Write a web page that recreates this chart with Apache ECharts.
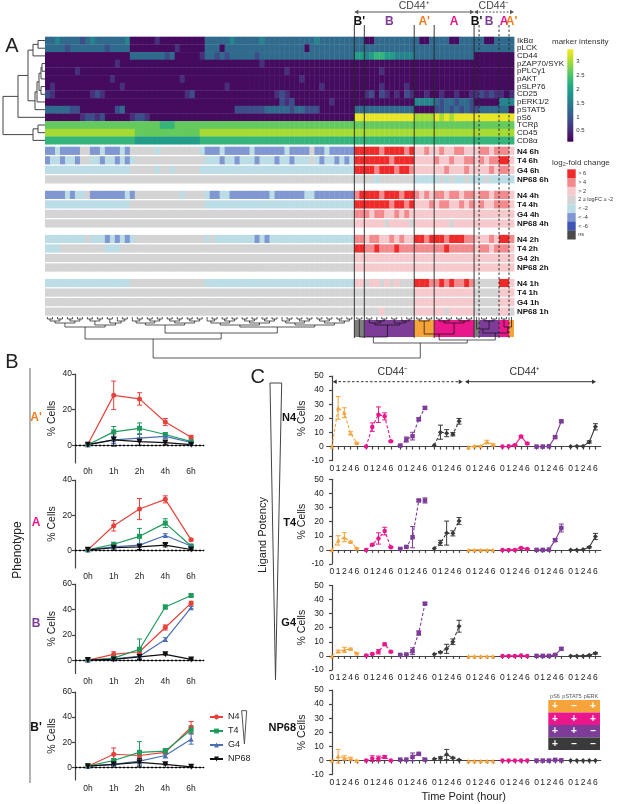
<!DOCTYPE html>
<html>
<head>
<meta charset="utf-8">
<script src="https://cdn.jsdelivr.net/npm/echarts@6/dist/echarts.min.js"></script>
<style>
html, body { margin: 0; padding: 0; background: #fff; }
#chart { width: 617px; height: 804px; }
</style>
</head>
<body>
<div id="chart"></div>
<script>
// ---------- Panel A: marker intensity heatmap (one char per column, digit = level) ----------
const MARKERS = ["IkBα", "pLCK", "CD44", "pZAP70/SYK", "pPLCγ1", "pAKT", "pSLP76", "CD25", "pERK1/2", "pSTAT5", "pS6", "TCRβ", "CD45", "CD8α"];
const MARKER_ROWS = [
    "3343333234 3333334000 0010000000 0033333433 3334333333 3333433333 33 | 33 0033333333 3003 33300333 3 3003 33 3",
    "3333233333 3323333000 0000001000 0033303333 3333333333 3303333333 33 | 33 3333333333 3333 33333333 3 3333 33 3",
    "0000000000 0000000333 3333230000 0133232333 3323333333 3333333333 33 | 55 4566554444 3333 33333333 0 0000 00 0",
    "0000000000 0000100000 0000000000 0000000000 0001000000 0000000000 00 | 00 0000000000 0000 00000000 0 0000 00 0",
    "0000001000 0000000000 0000000000 0000000000 0000000010 0000000000 00 | 00 0001000000 0000 00000000 0 0000 00 0",
    "0000000000 0001000000 0000000100 0000000000 0000000000 0100000000 00 | 00 0000000000 0000 00000000 0 0000 00 0",
    "0100000000 0000010000 0000000000 0000001000 0000000000 0000010000 00 | 00 0001000010 0000 00000000 0 0000 00 0",
    "2100000001 2100000000 0000000012 0000000000 0000001210 0000000000 00 | 00 1202101021 0010 01001001 1 2121 10 1",
    "0000000000 0000000000 0000000000 0000000000 0000000212 0000000100 00 | 00 0000000000 4444 32332332 0 0000 44 4",
    "3333322000 0000230000 0000000000 0000000022 2222333332 3322200000 00 | 33 3333333333 0000 22323232 2 3333 33 0",
    "0000000122 1200000122 1000000000 0000000000 0000000000 0000000000 00 | 99 9999999999 8888 98989999 9 9999 99 9",
    "7777777777 7777777777 7776667777 7777777777 7777777777 7777777777 77 | 77 7777777777 7777 77777777 7 7777 77 7",
    "8888888888 8888888877 7777777777 7888888888 8888888888 8888888888 88 | 88 8888888888 8888 88888888 8 8888 88 8",
    "6666666666 6666666655 5555555555 5666666666 6666666666 6666666666 66 | 66 6666666666 6666 66666666 6 6666 66 6",
];
// dendrogram of markers: [childA, childB, height]; ids >= 14 are earlier merges
const MARKER_TREE = [
    [0, 1, 7], [14, 2, 12], [3, 4, 3], [16, 5, 4], [6, 7, 4], [17, 18, 6], [19, 8, 8],
    [20, 9, 10], [15, 21, 17], [22, 10, 27], [11, 12, 7], [24, 13, 12], [23, 25, 42],
];

// ---------- Panel A: log2-fold change rows ----------
const FC_LABELS = ["N4 6h", "T4 6h", "G4 6h", "NP68 6h", "N4 4h", "T4 4h", "G4 4h", "NP68 4h",
    "N4 2h", "T4 2h", "G4 2h", "NP68 2h", "N4 1h", "T4 1h", "G4 1h", "NP68 1h"];
const NEUTRAL_LEFT = ".......... .......... .......... .......... .......... .......... ..";
const FC_ROWS = [
    "BBbBBBB..B BbBBBbB... ..b....... .bBBBbBBBB BbBBBBBBbB BBB.BBbBBB BB | RR RRRrRRRRrR pprp prpprrpp p rrpr rr p",
    "BbbBbbB..b bBbbBbBb.. .......... ..bbbBbbBb bbBbbbBbbB bbb.bBbbBb Bb | RR RRRRRrRRRR pppp rpprpprr p rprr RR p",
    "bbbbbbbbbb bbbbbbb... ..b..b.... .bbbbbbbbb bbbbbbbbbb bbbbbbbbbb bb | RR RRrRRRrRRr pppp pprppprp p pprp rr p",
    NEUTRAL_LEFT + " | .. ..b....... bbbb b.b.bb.b b b.bb bb b",
    "BBBBbBbb.B BBBBBBbB.. .......b.. ..bBBbbBBB BBBBBbBBBB BBbbBBBBBB BB | rR RRRrRRRrRR rprp rrprrprr p rrpr rr p",
    "bbbbbbbbbb bbbbbbb... .......... ..bbbbbbbb bbbbbbbbbb bbbbbbbbbb bb | RR RRRRRrRRrR pppr prrpprpr p rppr rr p",
    NEUTRAL_LEFT + " | rr rprrpprprp pppp pppppppp p pppp pp p",
    NEUTRAL_LEFT + " | pp pppp.pppp. pppp ppp.pppp p pppp pp p",
    "bbbbbbbb.b bbBbBbBb.. .......... ..b.bbbbbb bbBbBbbbbb bbbbbbbbbb bb | rr prrpprprpp RRrR RRrRRRrr p pprp RR r",
    "bbb....... ..bbb..... .......... .......... .......... .......... .. | RR rrRrrrRrrr rrrr rrRrrrrr p rrpr rr p",
    NEUTRAL_LEFT + " | pp pppppppppp pppp pppppppp p pppp pp p",
    NEUTRAL_LEFT + " | pp pppppppppp pppp pppppppp p pppp pp p",
    "bbbbbbbbbb bbbbbbb... .......... ..bbbbbbbb bbbbbbbbbb bbbbbbbbbb bb | pp .pp.p.p... RRRr rRrRrrRr . .... RR p",
    NEUTRAL_LEFT + " | .. .......... pppp pppppppp . .... pp p",
    NEUTRAL_LEFT + " | .. .......... pppp pppppppp . .... pp p",
    NEUTRAL_LEFT + " | .. ...p...... pppp pp.ppppp . .... pp .",
];
const FC_KEYS = ["R", "r", "p", ".", "b", "B", "D", "n"];
const FC_LEGEND = ["> 6", "> 4", "> 2", "2 ≥ logFC ≥ -2", "< -2", "< -4", "< -6", "ns"];
const FC_COLORS = ["#ee2a2a", "#f28a8d", "#f6c9cd", "#d4d4d4", "#bcdde6", "#8097d2", "#3e55b3", "#4a4a4a"];

// clusters along the columns
const CLUSTER_NAMES = ["", "B'", "B", "A'", "A", "B'", "B", "A", "A'"];
const CLUSTER_SIZES = [62, 2, 10, 4, 8, 1, 4, 2, 1];
const CLUSTER_CD44 = ["", "+", "+", "+", "+", "-", "-", "-", "-"];
const MAIN_SPLIT = [17, 32];
const PHENO_COLORS = { "B'": "#7f7f7f", "B": "#7d3c98", "A'": "#f5a33b", "A": "#e9168c" };
const PHENO_TEXT = { "B'": "#111111", "B": "#7d3c98", "A'": "#f07e1e", "A": "#e9168c" };
const COLORBAR_TICKS = [0.5, 1, 1.5, 2, 2.5, 3];

// ---------- Panel B ----------
const B_LIGANDS = ["N4", "T4", "G4", "NP68"];
const B_TIMES = ["0h", "1h", "2h", "4h", "6h"];
const B_APRIME = [[0.5, 28, 26, 13, 4.5], [0.3, 7.5, 9.5, 6, 2], [0.3, 3, 4, 5, 1.5], [0.3, 3, 2, 1.5, 0.3]];
const B_APRIME_ERR = [[0, 8, 3.5, 2, 1], [0, 3, 3, 1, 0.5], [0, 2, 2, 1, 0.5], [0, 3.5, 2, 1, 0]];
const B_A = [[0.3, 14, 23.5, 29, 6], [0.3, 3.5, 8, 15.5, 2.5], [0.3, 2, 3, 8.5, 2.5], [0.3, 1.5, 2, 3, 0.5]];
const B_A_ERR = [[0, 3, 6, 2, 0.5], [0, 1, 4.5, 2.5, 0.5], [0, 1, 1, 1, 0.5], [0, 1.5, 1.5, 1, 0.2]];
const B_B = [[0.5, 5, 7, 26, 45], [0.5, 2, 9, 42, 51], [0.5, 1.5, 3.5, 16.5, 41.5], [0.5, 1, 3, 5, 1]];
const B_B_ERR = [[0, 2, 2, 2, 1.5], [0, 1, 8, 1.5, 1], [0, 1, 2, 1.5, 1], [0, 0.5, 2, 0.5, 0.3]];
const B_BPRIME = [[1, 10.5, 9.5, 12, 32], [1, 5.5, 12, 13, 30], [1, 2.5, 5, 9.5, 22.5], [1, 2.5, 4, 2.5, 0.5]];
const B_BPRIME_ERR = [[0, 5, 3, 1.5, 4.5], [0, 1.5, 8.5, 2, 3], [0, 1, 3, 2, 4], [0, 1, 3, 0.5, 0.3]];
const LIG_COLORS = ["#e8403a", "#1e9b5c", "#4a6fb5", "#111111"];
const LIG_SYMBOLS = ["circle", "rect", "triangle", "path://M0,0L10,0L5,9Z"];

// ---------- Panel C: groups = CD44- A', A, B, B', then CD44+ A', A, B, B' ----------
const C_TIMES = ["0", "1", "2", "4", "6"];
const C_N4 = [[0, 27.4, 24, 9.5, 2.6], [0, 13.8, 22.6, 21.4, 3.8], [0.7, 5, 7.4, 19.3, 27.4], [1, 10.2, 9.5, 8.8, 17.9],
    [-0.5, 0.5, 0.5, 3.3, 1.4], [0, 0.2, 1, 7.1, 2.1], [0, 0, 0.2, 6.7, 17.9], [0, 0.3, 0.3, 3.3, 14]];
const C_N4_ERR = [[0, 8, 3.5, 1, 0.5], [0, 3, 5.5, 2.5, 0.5], [0.3, 1.8, 2.7, 1, 1], [0, 5, 2.5, 1.2, 2],
    [0, 0, 0, 1.2, 0.5], [0, 0, 0.3, 0.8, 0.5], [0, 0, 0, 0.8, 0.8], [0, 0, 0, 0.8, 2.2]];
const C_T4 = [[0, 6.7, 9, 5.7, 1.2], [0, 3.6, 8.1, 13.3, 1.9], [0.7, 2.1, 9, 35, 35], [1, 5, 11.9, 11.7, 20.5],
    [0, 0, 0, 0, 0], [0, 0, 0, 1.4, 0.7], [0, 0, 0.2, 6.9, 15.5], [0, 0, 0.3, 1.9, 9.5]];
const C_T4_ERR = [[0, 3.3, 3.2, 0.5, 0.3], [0, 0.5, 4, 2.7, 0.5], [0, 0.5, 7.5, 0.8, 1.8], [0, 1.8, 8.5, 1.8, 2.4],
    [0, 0, 0, 0, 0], [0, 0, 0, 0.3, 0.3], [0, 0, 0, 1, 2.8], [0, 0, 0, 0.5, 2.2]];
const C_G4 = [[0, 3.3, 4.3, 5, 1.9], [0.2, 1.4, 2.9, 8.3, 2.9], [0.7, 1, 3.3, 16.2, 37], [1.2, 2.6, 5, 10, 21],
    [-0.3, -0.3, -0.3, -0.3, -0.3], [0, 0, 0, 0.2, 0], [0, 0, 0, 0.7, 5], [0, 0, 0, 0.5, 1.9]];
const C_G4_ERR = [[0, 0.8, 1.8, 0.5, 0.3], [0, 0.5, 1.5, 0.8, 0.5], [0, 0.3, 2.4, 1.5, 0.8], [0, 0.5, 3.2, 2, 4.2],
    [0, 0, 0, 0, 0], [0, 0, 0, 0, 0], [0, 0, 0, 0.3, 0.8], [0, 0, 0, 0.2, 0.5]];
const C_NP68 = [[0, 3.1, 1.9, 1.4, 0], [0, 1.4, 1.4, 2.6, 0], [0.7, 0.7, 2.6, 4.8, 0.7], [1.2, 1.9, 4.3, 1.9, 0.5],
    [-0.3, -0.3, -0.3, -0.3, -0.3], [0, 0, 0, 0, 0], [0, 0, 0, 0.5, 0.2], [0, 0, 0, 0, 0]];
const C_NP68_ERR = [[0, 4.8, 1.5, 1, 0.2], [0, 2, 1.8, 1, 0.2], [0, 0, 2.8, 0.5, 0.2], [0, 0.8, 3.6, 0.5, 0.2],
    [0, 0, 0, 0, 0], [0, 0, 0, 0, 0], [0, 0, 0, 0, 0], [0, 0, 0, 0, 0]];
const C_GROUP_COLORS = ["#f5a33b", "#e9168c", "#7d3c98", "#3a3a3a"];
const C_GROUP_SYMBOLS = ["triangle", "circle", "rect", "diamond"];
const TABLE_HEAD = ["pS6", "pSTAT5", "pERK"];
const TABLE_ROWS = [["+", "–", "+"], ["+", "+", "+"], ["+", "+", "–"], ["+", "–", "–"]];

// ---------- helpers ----------
const FONT = '"Liberation Sans", Arial, Helvetica, sans-serif';
const AXIS_COLOR = "#444";
const VIRIDIS = ["#440154", "#482475", "#414487", "#355f8d", "#2a788e", "#21918c", "#22a884", "#44bf70", "#7ad151", "#bddf26", "#fde725"];

const parseRow = (s, fill) => {
    const chars = s.replace(/[\s|]/g, "").split("");
    while (chars.length < 94) chars.push(fill);
    return chars.slice(0, 94);
};
const markerGrid = MARKER_ROWS.map((s) => parseRow(s, "0"));
const fcGrid = FC_ROWS.map((s) => parseRow(s, "."));
const NCOL = 94;

function hexRgb(h) {
    return [1, 3, 5].map((i) => parseInt(h.substr(i, 2), 16));
}
function viridis(t) {
    t = Math.max(0, Math.min(1, t));
    const p = t * 10;
    const i = Math.min(9, Math.floor(p));
    const f = p - i;
    const a = hexRgb(VIRIDIS[i]);
    const b = hexRgb(VIRIDIS[i + 1]);
    const c = a.map((v, k) => Math.round(v + (b[k] - v) * f));
    return `rgb(${c[0]},${c[1]},${c[2]})`;
}
const levelValue = (d) => 0.2 + 0.35 * d;
const markerColor = (v) => viridis((v - 0.1) / 3.35);

const FC_STEP = 4.63;
const FC_HEIGHT = 3 * FC_STEP + 4;
const fcTop = (k) => Math.floor(k / 4) * FC_STEP + (k % 4);
const fcCenters = FC_LABELS.map((_, k) => fcTop(k) + 0.5);

// cluster starts
const clusterStarts = [];
CLUSTER_SIZES.reduce((acc, n) => { clusterStarts.push(acc); return acc + n; }, 0);

// bottom dendrogram
const bottomSegs = [];
function join(l, r, h, segs) {
    segs.push([[l.x, l.h], [l.x, h], [r.x, h], [r.x, r.h]]);
    return { x: (l.x + r.x) / 2, h };
}
function balanced(a, b, step, segs) {
    if (b - a === 1) return { x: a + 0.5, h: 0 };
    const m = Math.floor((a + b) / 2);
    const l = balanced(a, m, step, segs);
    const r = balanced(m, b, step, segs);
    return join(l, r, Math.max(l.h, r.h) + step, segs);
}
(function buildBottomTree() {
    const sub0 = balanced(0, MAIN_SPLIT[0], 2, bottomSegs);
    const sub1 = balanced(MAIN_SPLIT[0], MAIN_SPLIT[1], 2, bottomSegs);
    const sub2 = balanced(MAIN_SPLIT[1], CLUSTER_SIZES[0], 2, bottomSegs);
    const blk = CLUSTER_SIZES.map((n, i) => (i === 0 ? null : balanced(clusterStarts[i], clusterStarts[i] + n, 2, bottomSegs)));
    const left = join(sub0, join(sub1, sub2, 16, bottomSegs), 22, bottomSegs);
    const bpb = join(blk[1], blk[2], 20, bottomSegs);
    const apa = join(blk[3], blk[4], 17, bottomSegs);
    const neg = join(join(blk[5], blk[6], 12, bottomSegs), join(blk[7], blk[8], 10, bottomSegs), 16, bottomSegs);
    const right = join(bpb, join(apa, neg, 23, bottomSegs), 26, bottomSegs);
    join(left, right, 41, bottomSegs);
})();

// left dendrogram (x = height, y = row position)
const leftSegs = [];
(function buildLeftTree() {
    const nodes = MARKERS.map((_, i) => ({ h: 0, y: i + 0.5 }));
    MARKER_TREE.forEach(([a, b, h]) => {
        const l = nodes[a], r = nodes[b];
        leftSegs.push([[l.h, l.y], [h, l.y], [h, r.y], [r.h, r.y]]);
        nodes.push({ h, y: (l.y + r.y) / 2 });
    });
})();

// ---------- data for series ----------
const markerData = [];
markerGrid.forEach((row, r) => row.forEach((ch, c) => markerData.push([c, r, levelValue(+ch)])));
const fcData = [];
fcGrid.forEach((row, k) => row.forEach((ch, c) => fcData.push([c, k, Math.max(0, FC_KEYS.indexOf(ch))])));

const clusterBars = [];
const boundaries = [];
const clusterLabels = [];
CLUSTER_NAMES.forEach((name, i) => {
    if (!name) return;
    const s = clusterStarts[i];
    clusterBars.push([s, s + CLUSTER_SIZES[i], i]);
    clusterLabels.push([s + CLUSTER_SIZES[i] / 2, i]);
    const dashed = CLUSTER_CD44[i] === "-" && CLUSTER_CD44[i - 1] === "-";
    boundaries.push([s, dashed ? 1 : 0]);
});
const compartments = [];
["+", "-"].forEach((sign) => {
    const idx = CLUSTER_CD44.map((c, i) => (c === sign ? i : -1)).filter((i) => i >= 0);
    const s = clusterStarts[idx[0]];
    const e = clusterStarts[idx[idx.length - 1]] + CLUSTER_SIZES[idx[idx.length - 1]];
    compartments.push([s, e, sign === "-" ? 1 : 0]);
});

// ---------- layout ----------
const HM_LEFT = 45, HM_WIDTH = 469;
const B_TOPS = [374, 480, 584, 692];
const B_HEIGHTS = [89, 88, 89.5, 88];
const C_TOPS = [376, 479.3, 585.3, 690];
const C_HEIGHT = 84.7;

const grids = [
    { left: HM_LEFT, top: 36.7, width: HM_WIDTH, height: 107.5 },
    { left: HM_LEFT, top: 146.7, width: HM_WIDTH, height: 170.3 },
    { left: HM_LEFT, top: 317, width: HM_WIDTH, height: 43 },
    { left: 3, top: 36.7, width: 42, height: 107.5 },
    { left: HM_LEFT, top: 0, width: HM_WIDTH, height: 360 },
    { left: 567.3, top: 49.3, width: 6, height: 92.4 },
    { left: 567.3, top: 169.3, width: 8.4, height: 70 },
];
B_TOPS.forEach((t, i) => grids.push({ left: 75, top: t, width: 129, height: B_HEIGHTS[i] }));
C_TOPS.forEach((t) => grids.push({ left: 326.7, top: t, width: 274, height: C_HEIGHT }));

const hiddenValue = (gridIndex, min, max, extra) => Object.assign({ gridIndex, type: "value", min, max, show: false }, extra || {});

const xAxes = [
    hiddenValue(0, 0, NCOL),
    hiddenValue(1, 0, NCOL),
    hiddenValue(2, 0, NCOL),
    hiddenValue(3, 0, 42, { inverse: true }),
    hiddenValue(4, 0, NCOL),
    hiddenValue(5, 0, 1),
    hiddenValue(6, 0, 1),
];
const yAxes = [
    {
        gridIndex: 0, type: "category", data: MARKERS, inverse: true, position: "right",
        axisLine: { show: false }, axisTick: { show: false },
        axisLabel: { interval: 0, fontSize: 8, margin: 3, color: "#222", fontFamily: FONT },
    },
    {
        gridIndex: 1, type: "value", min: 0, max: FC_HEIGHT, inverse: true, position: "right",
        axisLine: { show: false }, axisTick: { show: false }, splitLine: { show: false },
        axisLabel: {
            customValues: fcCenters, fontSize: 8, fontWeight: "bold", margin: 3, color: "#111", fontFamily: FONT,
            formatter: (v) => {
                const k = fcCenters.findIndex((c) => Math.abs(c - v) < 0.01);
                return k >= 0 ? FC_LABELS[k] : "";
            },
        },
    },
    hiddenValue(2, 0, 43, { inverse: true }),
    hiddenValue(3, 0, MARKERS.length, { inverse: true }),
    hiddenValue(4, 0, 360, { inverse: true }),
    {
        gridIndex: 5, type: "value", min: 0.1, max: 3.45, position: "right",
        axisLine: { show: false }, axisTick: { show: false }, splitLine: { show: false },
        axisLabel: { customValues: COLORBAR_TICKS, fontSize: 6, margin: 3, color: "#333", fontFamily: FONT },
    },
    {
        gridIndex: 6, type: "category", data: FC_LEGEND, inverse: true, position: "right",
        axisLine: { show: false }, axisTick: { show: false },
        axisLabel: { interval: 0, fontSize: 5.5, margin: 2.5, color: "#333", fontFamily: FONT },
    },
];

const axisLineStyle = { color: AXIS_COLOR, width: 1.2 };
const B_PHENOS = [
    { label: "A'", data: B_APRIME, err: B_APRIME_ERR, max: 40, ticks: [0, 20, 40] },
    { label: "A", data: B_A, err: B_A_ERR, max: 40, ticks: [0, 20, 40] },
    { label: "B", data: B_B, err: B_B_ERR, max: 60, ticks: [0, 20, 40, 60] },
    { label: "B'", data: B_BPRIME, err: B_BPRIME_ERR, max: 60, ticks: [0, 20, 40, 60] },
];
B_PHENOS.forEach((p, i) => {
    const g = 7 + i;
    xAxes.push({
        gridIndex: g, type: "category", data: B_TIMES, boundaryGap: true,
        axisLine: { lineStyle: axisLineStyle },
        axisTick: { alignWithLabel: true, length: 3, lineStyle: axisLineStyle },
        axisLabel: { fontSize: 8.5, color: "#222", margin: 4, fontFamily: FONT },
    });
    yAxes.push({
        gridIndex: g, type: "value", min: -10, max: p.max, interval: 10,
        name: "% Cells", nameLocation: "middle", nameGap: 17,
        nameTextStyle: { fontSize: 10.5, color: "#222", fontFamily: FONT },
        axisLine: { show: true, lineStyle: axisLineStyle },
        axisTick: { show: true, length: 3, customValues: p.ticks, lineStyle: axisLineStyle },
        axisLabel: { customValues: p.ticks, fontSize: 8.5, color: "#222", margin: 3, fontFamily: FONT },
        splitLine: { show: false },
    });
});

const C_ROWS = [
    { label: "N4", data: C_N4, err: C_N4_ERR },
    { label: "T4", data: C_T4, err: C_T4_ERR },
    { label: "G4", data: C_G4, err: C_G4_ERR },
    { label: "NP68", data: C_NP68, err: C_NP68_ERR },
];
const C_PERIOD = 5.5;
const cTicks = [];
for (let g = 0; g < 8; g++) C_TIMES.forEach((_, i) => cTicks.push(g * C_PERIOD + i));
const cTickLabel = (v) => {
    const g = Math.floor((v + 0.1) / C_PERIOD);
    return C_TIMES[Math.round(v - g * C_PERIOD)] || "";
};
C_ROWS.forEach((row, r) => {
    const g = 11 + r;
    const last = r === C_ROWS.length - 1;
    xAxes.push({
        gridIndex: g, type: "value", min: -0.85, max: 43.35,
        name: last ? "Time Point (hour)" : "", nameLocation: "middle", nameGap: 17,
        nameTextStyle: { fontSize: 11, color: "#222", fontFamily: FONT },
        axisLine: { lineStyle: axisLineStyle },
        axisTick: { customValues: cTicks, length: 3, lineStyle: axisLineStyle },
        axisLabel: { customValues: cTicks, formatter: cTickLabel, fontSize: 8.5, color: "#222", margin: 3, fontFamily: FONT },
        splitLine: { show: false },
    });
    yAxes.push({
        gridIndex: g, type: "value", min: -10, max: 50, interval: 10,
        name: "% Cells", nameLocation: "middle", nameGap: 13,
        nameTextStyle: { fontSize: 10.5, color: "#222", fontFamily: FONT },
        axisLine: { show: true, lineStyle: axisLineStyle },
        axisTick: { show: true, length: 3, lineStyle: axisLineStyle },
        axisLabel: { fontSize: 8.5, color: "#222", margin: 3, fontFamily: FONT },
        splitLine: { show: false },
    });
});

// ---------- series ----------
const series = [];

series.push({
    type: "custom", xAxisIndex: 0, yAxisIndex: 0, data: markerData, progressive: 0, silent: true,
    encode: { x: 0, y: 1 },
    renderItem(params, api) {
        const c = api.value(0), r = api.value(1);
        const p0 = api.coord([c, r]);
        const p1 = api.coord([c + 1, r]);
        const h = api.size([0, 1])[1];
        return {
            type: "rect",
            shape: { x: p0[0], y: p0[1] - h / 2, width: p1[0] - p0[0] + 0.4, height: h + 0.3 },
            style: { fill: markerColor(api.value(2)) },
        };
    },
});

series.push({
    type: "custom", xAxisIndex: 1, yAxisIndex: 1, data: fcData, progressive: 0, silent: true,
    encode: { x: 0, y: 1 },
    renderItem(params, api) {
        const c = api.value(0), k = api.value(1);
        const y0 = fcTop(k);
        const p0 = api.coord([c, y0]);
        const p1 = api.coord([c + 1, y0 + 1]);
        return {
            type: "rect",
            shape: { x: p0[0], y: p0[1], width: p1[0] - p0[0] + 0.4, height: p1[1] - p0[1] - 1.3 },
            style: { fill: FC_COLORS[api.value(2)] },
        };
    },
});

series.push({
    type: "custom", xAxisIndex: 2, yAxisIndex: 2, data: clusterBars, silent: true,
    encode: { x: [0, 1] },
    renderItem(params, api) {
        const p0 = api.coord([api.value(0), 3]);
        const p1 = api.coord([api.value(1), 20]);
        return {
            type: "rect",
            shape: { x: p0[0], y: p0[1], width: p1[0] - p0[0], height: p1[1] - p0[1] },
            style: { fill: PHENO_COLORS[CLUSTER_NAMES[api.value(2)]] },
        };
    },
});

series.push({
    type: "lines", coordinateSystem: "cartesian2d", xAxisIndex: 2, yAxisIndex: 2, polyline: true, silent: true,
    data: bottomSegs.map((s) => ({ coords: s })),
    lineStyle: { color: "#111", width: 0.7, opacity: 1 }, z: 5,
});

series.push({
    type: "lines", coordinateSystem: "cartesian2d", xAxisIndex: 3, yAxisIndex: 3, polyline: true, silent: true,
    data: leftSegs.map((s) => ({ coords: s })),
    lineStyle: { color: "#444", width: 1, opacity: 1 },
});

// cluster boundary lines
series.push({
    type: "custom", xAxisIndex: 4, yAxisIndex: 4, data: boundaries, silent: true, z: 10,
    encode: { x: 0 },
    renderItem(params, api) {
        const p0 = api.coord([api.value(0), 25]);
        const p1 = api.coord([api.value(0), 338]);
        return {
            type: "line",
            shape: { x1: p0[0], y1: p0[1], x2: p1[0], y2: p1[1] },
            style: { stroke: "#222", lineWidth: 0.9, lineDash: api.value(1) ? [2.5, 2] : null },
        };
    },
});

// cluster labels
series.push({
    type: "custom", xAxisIndex: 4, yAxisIndex: 4, data: clusterLabels, silent: true, z: 10,
    encode: { x: 0 },
    renderItem(params, api) {
        const p = api.coord([api.value(0), 22]);
        const name = CLUSTER_NAMES[api.value(1)];
        return {
            type: "text", x: p[0], y: p[1],
            style: {
                text: name, fill: PHENO_TEXT[name], font: `bold 12px ${FONT}`,
                align: "center", verticalAlign: "middle", textAlign: "center", textVerticalAlign: "middle",
            },
        };
    },
});

// CD44 compartment arrows
series.push({
    type: "custom", xAxisIndex: 4, yAxisIndex: 4, data: compartments, silent: true, z: 10,
    encode: { x: [0, 1] },
    renderItem(params, api) {
        const a = api.coord([api.value(0), 12]);
        const b = api.coord([api.value(1), 12]);
        const dashed = api.value(2);
        const t = api.coord([(api.value(0) + api.value(1)) / 2, 6]);
        const col = "#555";
        return {
            type: "group",
            children: [
                { type: "line", shape: { x1: a[0] + 1, y1: a[1], x2: b[0] - 1, y2: b[1] }, style: { stroke: col, lineWidth: 1, lineDash: dashed ? [2, 1.5] : null } },
                { type: "polygon", shape: { points: [[a[0], a[1]], [a[0] + 4, a[1] - 2.2], [a[0] + 4, a[1] + 2.2]] }, style: { fill: col } },
                { type: "polygon", shape: { points: [[b[0], b[1]], [b[0] - 4, b[1] - 2.2], [b[0] - 4, b[1] + 2.2]] }, style: { fill: col } },
                {
                    type: "text", x: t[0], y: t[1],
                    style: {
                        text: dashed ? "CD44⁻" : "CD44⁺", fill: "#444", font: `10.5px ${FONT}`,
                        align: "center", verticalAlign: "middle", textAlign: "center", textVerticalAlign: "middle",
                    },
                },
            ],
        };
    },
});

// colorbar
series.push({
    type: "custom", xAxisIndex: 5, yAxisIndex: 5, data: [[0.5, 1]], silent: true,
    renderItem(params) {
        const cs = params.coordSys;
        return {
            type: "rect",
            shape: { x: cs.x, y: cs.y, width: cs.width, height: cs.height },
            style: {
                fill: new echarts.graphic.LinearGradient(0, 1, 0, 0,
                    VIRIDIS.map((c, i) => ({ offset: i / 10, color: c }))),
            },
        };
    },
});

// fold-change legend swatches
series.push({
    type: "custom", xAxisIndex: 6, yAxisIndex: 6, data: FC_LEGEND.map((_, k) => [0.5, k]), silent: true,
    encode: { x: 0, y: 1 },
    renderItem(params, api) {
        const k = api.value(1);
        const p0 = api.coord([0, k]);
        const p1 = api.coord([1, k]);
        const h = api.size([0, 1])[1];
        return {
            type: "rect",
            shape: { x: p0[0], y: p0[1] - h / 2, width: p1[0] - p0[0], height: h + 0.2 },
            style: { fill: FC_COLORS[k] },
        };
    },
});

function errorSeries(xAxisIndex, yAxisIndex, data, colors) {
    return {
        type: "custom", xAxisIndex, yAxisIndex, data, silent: true, z: 3,
        encode: { x: 0, y: 1 },
        renderItem(params, api) {
            const x = api.value(0), y = api.value(1), e = api.value(2);
            if (!e) return null;
            const top = api.coord([x, y + e]);
            const bot = api.coord([x, y - e]);
            const stroke = colors[api.value(3)];
            const w = 2.5;
            const st = { stroke, lineWidth: 1 };
            return {
                type: "group",
                children: [
                    { type: "line", shape: { x1: top[0], y1: top[1], x2: bot[0], y2: bot[1] }, style: st },
                    { type: "line", shape: { x1: top[0] - w, y1: top[1], x2: top[0] + w, y2: top[1] }, style: st },
                    { type: "line", shape: { x1: bot[0] - w, y1: bot[1], x2: bot[0] + w, y2: bot[1] }, style: st },
                ],
            };
        },
    };
}

// Panel B lines
B_PHENOS.forEach((p, i) => {
    const g = 7 + i;
    const errData = [];
    B_LIGANDS.forEach((lig, l) => {
        series.push({
            name: lig, type: "line", xAxisIndex: g, yAxisIndex: g,
            data: p.data[l], symbol: LIG_SYMBOLS[l], symbolSize: l === 3 ? 6 : 5,
            lineStyle: { color: LIG_COLORS[l], width: 1.2 },
            itemStyle: { color: LIG_COLORS[l] }, z: 4,
            markLine: l === 0 ? {
                silent: true, symbol: ["none", "none"], label: { show: false },
                lineStyle: { type: [2, 2], color: "#000", width: 1.4 },
                data: [{ yAxis: 0 }],
            } : undefined,
        });
        p.err[l].forEach((e, t) => errData.push([t, p.data[l][t], e, l]));
    });
    series.push(errorSeries(g, g, errData, LIG_COLORS));
});

// Panel C lines
C_ROWS.forEach((row, r) => {
    const g = 11 + r;
    const errData = [];
    row.data.forEach((vals, grp) => {
        const c = grp % 4;
        series.push({
            name: `C${r}-${grp}`, type: "line", xAxisIndex: g, yAxisIndex: g,
            data: vals.map((v, t) => [grp * C_PERIOD + t, v]),
            symbol: C_GROUP_SYMBOLS[c], symbolSize: c === 3 ? 5 : 4.5,
            lineStyle: { color: C_GROUP_COLORS[c], width: 1.1, type: grp < 4 ? [3, 2] : "solid" },
            itemStyle: { color: C_GROUP_COLORS[c] }, z: 4,
        });
        row.err[grp].forEach((e, t) => errData.push([grp * C_PERIOD + t, vals[t], e, c]));
    });
    series.push(errorSeries(g, g, errData, C_GROUP_COLORS));
});

// ---------- graphic annotations ----------
function txt(x, y, text, size, opts) {
    opts = opts || {};
    const align = opts.align || "center";
    return {
        type: "text", x, y, rotation: opts.rotation || 0, z: 50, silent: true,
        style: {
            text, font: `${opts.weight || "normal"} ${size}px ${FONT}`, fill: opts.color || "#222",
            align, verticalAlign: "middle", textAlign: align, textVerticalAlign: "middle",
        },
    };
}
const graphic = [
    txt(12, 46, "A", 20),
    txt(12, 362, "B", 20),
    txt(257.7, 377, "C", 20),
    txt(552, 41.3, "marker intensity", 8, { align: "left", color: "#333" }),
    txt(552, 162.7, "log₂-fold change", 8, { align: "left", color: "#333" }),
    txt(18, 550, "Phenotype", 12, { rotation: Math.PI / 2 }),
    { type: "line", silent: true, shape: { x1: 30, y1: 368, x2: 30, y2: 783 }, style: { stroke: "#666", lineWidth: 1 } },
    { type: "polygon", silent: true, shape: { points: [[241.7, 710.7], [246.7, 710.7], [244.4, 744]] }, style: { fill: "none", stroke: "#555", lineWidth: 1 } },
    txt(263, 535, "Ligand Potency", 11, { rotation: Math.PI / 2 }),
    { type: "polygon", silent: true, shape: { points: [[270, 383], [281.7, 383], [275.5, 680]] }, style: { fill: "none", stroke: "#444", lineWidth: 1 } },
    txt(393, 371.7, "CD44⁻", 10.5, { color: "#333" }),
    txt(525, 371.7, "CD44⁺", 10.5, { color: "#333" }),
    { type: "line", silent: true, shape: { x1: 334, y1: 381.7, x2: 461, y2: 381.7 }, style: { stroke: "#333", lineWidth: 1, lineDash: [2.5, 2] } },
    { type: "polygon", silent: true, shape: { points: [[332.7, 381.7], [336.7, 379.5], [336.7, 383.9]] }, style: { fill: "#333" } },
    { type: "polygon", silent: true, shape: { points: [[462.7, 381.7], [458.7, 379.5], [458.7, 383.9]] }, style: { fill: "#333" } },
    { type: "line", silent: true, shape: { x1: 466, y1: 381.7, x2: 595, y2: 381.7 }, style: { stroke: "#333", lineWidth: 1 } },
    { type: "polygon", silent: true, shape: { points: [[465, 381.7], [469, 379.5], [469, 383.9]] }, style: { fill: "#333" } },
    { type: "polygon", silent: true, shape: { points: [[596, 381.7], [592, 379.5], [592, 383.9]] }, style: { fill: "#333" } },
];
B_PHENOS.forEach((p, i) => {
    const y = [418, 523, 624, 728][i];
    graphic.push(txt(36, y, p.label, 12, { weight: "bold", color: PHENO_TEXT[p.label] }));
});
C_ROWS.forEach((row, r) => {
    const y = [418, 522.7, 622.7, 727.7][r];
    graphic.push(txt(296, y, row.label, 11, { weight: "bold", align: "right", color: "#111" }));
});
const TABLE_X = [555, 574, 593];
TABLE_HEAD.forEach((h, j) => graphic.push(txt([555, 572, 591][j], 696, h, 5.5, { color: "#555" })));
TABLE_ROWS.forEach((cells, k) => {
    const y0 = 700 + k * 12.5;
    graphic.push({ type: "rect", silent: true, shape: { x: 548.3, y: y0, width: 51.7, height: 12.6 }, style: { fill: C_GROUP_COLORS[k] } });
    cells.forEach((s, j) => graphic.push(txt(TABLE_X[j], y0 + 6.3, s, 10, { weight: "bold", color: "#fff" })));
});

const chart = echarts.init(document.getElementById("chart"));
chart.setOption({
    animation: false,
    backgroundColor: "#fff",
    textStyle: { fontFamily: FONT },
    grid: grids,
    xAxis: xAxes,
    yAxis: yAxes,
    legend: {
        data: B_LIGANDS, orient: "vertical", left: 204, top: 707.5,
        itemWidth: 13, itemHeight: 6, itemGap: 5,
        textStyle: { fontSize: 9, color: "#222", fontFamily: FONT },
        selectedMode: false,
    },
    graphic,
    series,
});
</script>
</body>
</html>
